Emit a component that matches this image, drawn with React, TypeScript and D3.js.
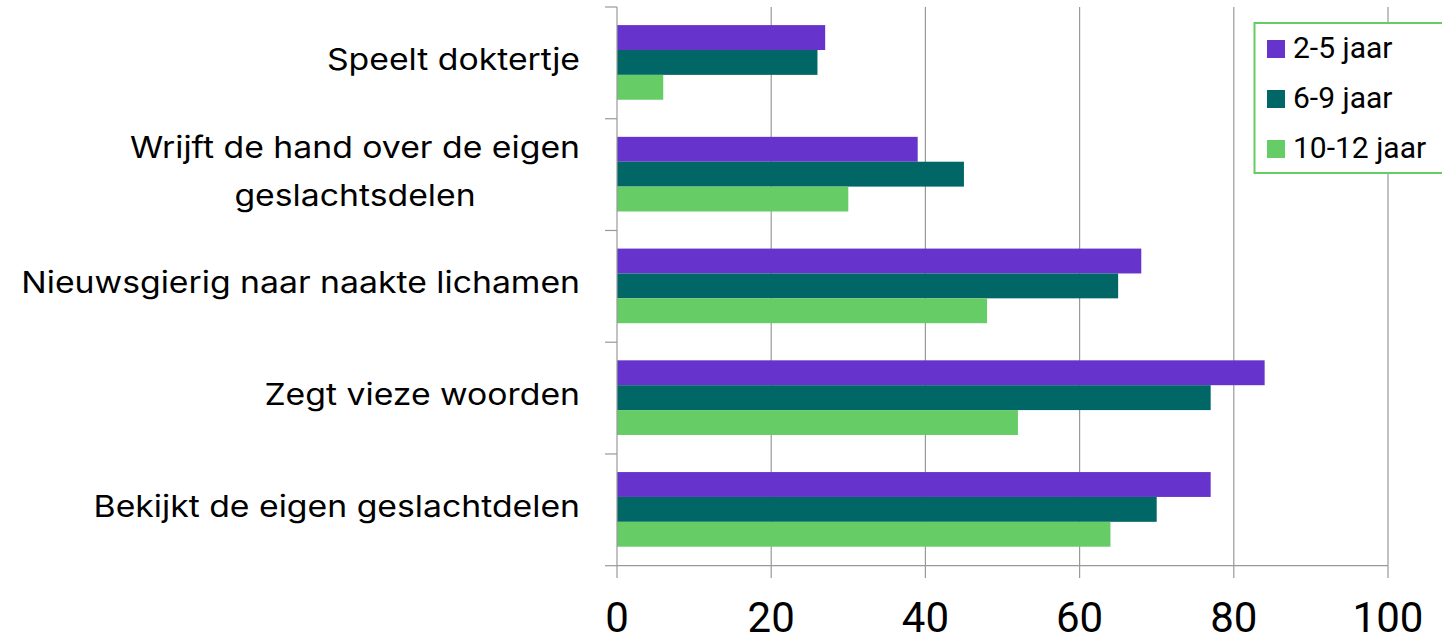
import React from "react";
import * as d3 from "d3";

const categories: string[][] = [
  ["Speelt doktertje"],
  ["Wrijft de hand over de eigen", "geslachtsdelen"],
  ["Nieuwsgierig naar naakte lichamen"],
  ["Zegt vieze woorden"],
  ["Bekijkt de eigen geslachtdelen"],
];
const seriesNames = ["2-5 jaar", "6-9 jaar", "10-12 jaar"];
const seriesColors = ["#6633CC", "#006666", "#66CC66"];
const values25 = [27, 39, 68, 84, 77];
const values69 = [26, 45, 65, 77, 70];
const values1012 = [6, 30, 48, 52, 64];
const xTicks = [0, 20, 40, 60, 80, 100];

const W = 1442;
const H = 638;
const left = 617;
const right = 1388;
const top = 7;
const bottom = 565.7;

export default function App() {
  const seriesValues = [values25, values69, values1012];
  const x = d3.scaleLinear().domain([0, 100]).range([left, right]);
  const y = d3
    .scaleBand<number>()
    .domain(categories.map((_, i) => i))
    .range([top, bottom])
    .padding(0);
  const bw = y.bandwidth();
  const inner = d3
    .scaleBand<number>()
    .domain(seriesNames.map((_, i) => i))
    .range([bw * 0.162, bw * 0.83])
    .padding(0);
  const catFont = "Inter, 'Noto Sans', sans-serif";
  const robo = "Roboto, sans-serif";
  const gridColor = "#999999";
  const sx = 1.125;
  const labelRight = 580;

  return (
    <svg
      width={W}
      height={H}
      style={{ position: "absolute", left: 0, top: 0, display: "block", background: "#fff" }}
    >
      {/* gridlines */}
      {xTicks.slice(1).map((t) => (
        <line key={"g" + t} x1={x(t)} x2={x(t)} y1={top} y2={bottom} stroke={gridColor} strokeWidth={1.2} />
      ))}
      {/* bars */}
      {categories.map((_, ci) =>
        seriesValues.map((vals, si) => (
          <rect
            key={ci + "-" + si}
            x={x(0)}
            y={(y(ci) as number) + (inner(si) as number)}
            width={x(vals[ci]) - x(0)}
            height={inner.bandwidth()}
            fill={seriesColors[si]}
          />
        ))
      )}
      {/* y axis */}
      <line x1={left} x2={left} y1={top} y2={bottom} stroke={gridColor} strokeWidth={1.2} />
      {categories.map((_, i) => (
        <line key={"yt" + i} x1={605} x2={left} y1={y(i) as number} y2={y(i) as number} stroke={gridColor} strokeWidth={1.2} />
      ))}
      <line x1={605} x2={left} y1={bottom} y2={bottom} stroke={gridColor} strokeWidth={1.2} />
      {/* x axis */}
      <line x1={left} x2={right} y1={bottom} y2={bottom} stroke={gridColor} strokeWidth={1.2} />
      {xTicks.map((t) => (
        <line key={"xt" + t} x1={x(t)} x2={x(t)} y1={bottom} y2={578} stroke={gridColor} strokeWidth={1.2} />
      ))}
      {xTicks.map((t) => (
        <text key={"xl" + t} x={x(t)} y={632} textAnchor="middle" fontFamily={robo} fontSize={42} fill="#000">
          {t}
        </text>
      ))}
      {/* category labels */}
      <g transform={`translate(${labelRight},0) scale(${sx},1)`}>
        {categories.map((lines, i) => {
          const cy = (y(i) as number) + bw / 2 + 7;
          const lh = 48;
          const start = cy - ((lines.length - 1) * lh) / 2;
          return lines.map((ln, li) => {
            const multiCont = lines.length > 1 && li > 0;
            return (
              <text
                key={"c" + i + "-" + li}
                x={multiCont ? (355 - labelRight) / sx : 0}
                y={start + li * lh}
                textAnchor={multiCont ? "middle" : "end"}
                fontFamily={catFont}
                fontSize={30}
                fill="#000"
              >
                {ln}
              </text>
            );
          });
        })}
      </g>
      {/* legend */}
      <rect x={1254.5} y={23} width={200} height={150} fill="#fff" stroke="#66CC66" strokeWidth={2} />
      {seriesNames.map((s, i) => (
        <g key={"lg" + i}>
          <rect x={1267} y={40 + i * 50} width={18} height={18} fill={seriesColors[i]} />
          <text x={1293} y={58 + i * 50} fontFamily={robo} fontSize={30} fill="#000">
            {s}
          </text>
        </g>
      ))}
    </svg>
  );
}
